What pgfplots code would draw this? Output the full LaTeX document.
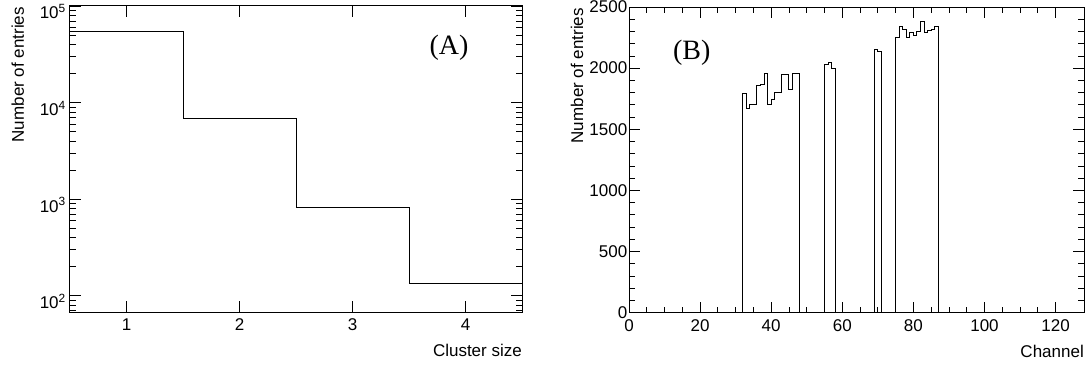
\documentclass[border=0pt]{standalone}
\usepackage{fontspec}
\setmainfont{Liberation Sans}
\newfontfamily\seriffont{Liberation Serif}
\usepackage{pgfplots}
\pgfplotsset{compat=1.18}
\pgfplotsset{
  rootstyle/.style={
    scale only axis, anchor=south west,
    axis line style={line width=1pt},
    tick style={black, line width=0.8pt},
    major tick length=11pt, minor tick length=6pt,
    tick align=inside,
    xtick pos=both, ytick pos=both,
    tick label style={font=\fontsize{17}{17}\selectfont},
    /pgf/number format/assume math mode=true,
    /pgf/number format/1000 sep={},
    x tick label style={inner sep=6.5pt},
    every axis y label/.style={at={([xshift=-46pt,yshift=-1pt]axis description cs:0,1)}, rotate=90, anchor=base east, inner sep=0pt, font=\fontsize{17}{17}\selectfont},
    every axis x label/.style={at={([yshift=-32pt]axis description cs:1,0)}, anchor=north east, inner sep=0pt, font=\fontsize{17}{17}\selectfont},
  },
  hist/.style={const plot, black, line width=1pt, mark=none},
}
\begin{document}
\begin{tikzpicture}
\useasboundingbox (0pt,0pt) rectangle (1091pt,365pt);
\begin{axis}[rootstyle,
  at={(70pt,53pt)}, width=452pt, height=306pt,
  xmin=0.5, xmax=4.5, ymin=68, ymax=100000, ymode=log,
  xtick={1,2,3,4},
  ytick={100,1000,10000,100000},
  yticklabels={10\textsuperscript{2},10\textsuperscript{3},10\textsuperscript{4},10\textsuperscript{5}},
  minor ytick={70,80,90,200,300,400,500,600,700,800,900,2000,3000,4000,5000,6000,7000,8000,9000,20000,30000,40000,50000,60000,70000,80000,90000},
  y tick label style={anchor=base east, inner sep=4pt, yshift=-13pt},
  xlabel={Cluster size}, ylabel={Number of entries}]
\addplot[hist] coordinates {(0.5,55000)(1.5,6900)(2.5,820)(3.5,134)(4.5,134)};
\node[font=\seriffont\fontsize{28}{28}\selectfont] at (rel axis cs:0.8385,0.863) {(A)};
\end{axis}
\begin{axis}[rootstyle,
  at={(629pt,52.3pt)}, width=455pt, height=305.7pt,
  xmin=0, xmax=128, ymin=0, ymax=2500,
  xtick={0,20,...,120}, minor x tick num=3,
  ytick={0,500,...,2500}, minor y tick num=4,
  y tick label style={inner sep=1.5pt},
  xlabel={Channel}, ylabel={Number of entries}]
\addplot[hist] coordinates {
(0,0)
(32,1795)(33,1672)(34,1705)(35,1705)(36,1855)(37,1870)(38,1958)(39,1705)(40,1745)(41,1803)(42,1803)(43,1950)(44,1950)(45,1822)(46,1958)(47,1958)(48,0)
(55,2030)(56,2045)(57,2000)(58,0)
(69,2150)(70,2140)(71,0)
(75,2250)(76,2340)(77,2320)(78,2250)(79,2290)(80,2270)(81,2300)(82,2380)(83,2290)(84,2310)(85,2320)(86,2340)(87,0)(128,0)
};
\node[font=\seriffont\fontsize{28}{28}\selectfont] at (rel axis cs:0.138,0.849) {(B)};
\end{axis}
\end{tikzpicture}
\end{document}
